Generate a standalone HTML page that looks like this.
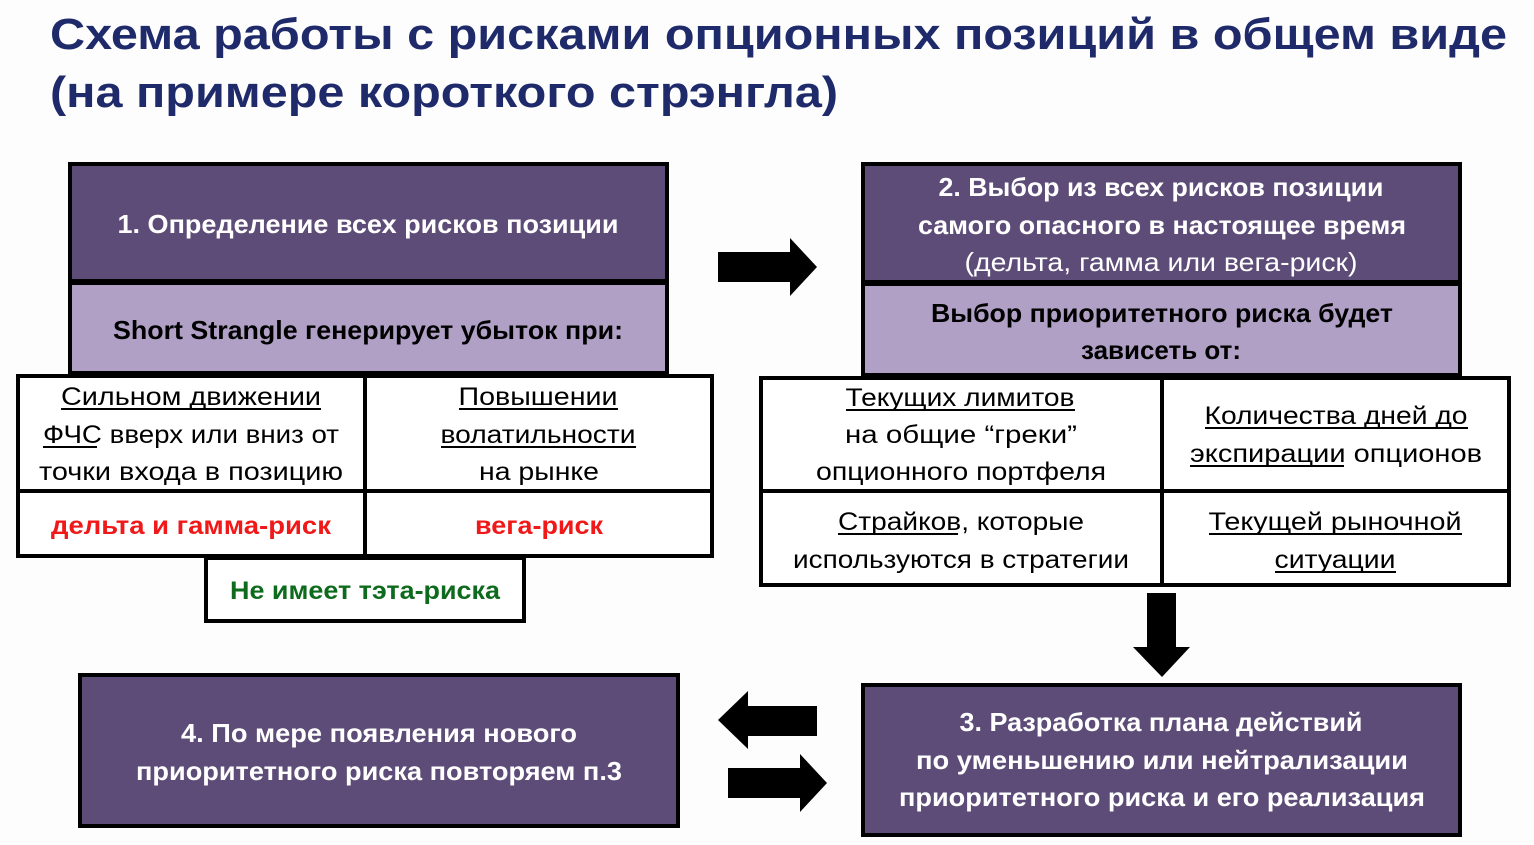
<!DOCTYPE html>
<html><head><meta charset="utf-8"><style>
html,body{margin:0;padding:0;background:#fff;}
svg{display:block}
text{font-family:"Liberation Sans",sans-serif;}
</style></head><body>
<svg width="1534" height="845" viewBox="0 0 1534 845" xmlns="http://www.w3.org/2000/svg">
<rect width="1534" height="845" fill="#fdfdfd"/>
<g font-weight="bold" fill="#1f2a6b" font-size="44">
<text x="50" y="49" textLength="1457" lengthAdjust="spacingAndGlyphs">Схема работы с рисками опционных позиций в общем виде</text>
<text x="50" y="107" textLength="788" lengthAdjust="spacingAndGlyphs">(на примере короткого стрэнгла)</text>
</g>
<g stroke="#000" stroke-width="4">
<rect x="70" y="164" width="597" height="117" fill="#5d4c78"/>
<rect x="70" y="283" width="597" height="90" fill="#b0a0c6"/>
<rect x="18" y="376" width="694" height="180" fill="#fff"/>
<line x1="365" y1="376" x2="365" y2="556"/>
<line x1="18" y1="491" x2="712" y2="491"/>
<rect x="206" y="558" width="318" height="63" fill="#fff"/>
<rect x="863" y="164" width="597" height="118" fill="#5d4c78"/>
<rect x="863" y="284" width="597" height="91" fill="#b0a0c6"/>
<rect x="761" y="378" width="748" height="207" fill="#fff"/>
<line x1="1162" y1="378" x2="1162" y2="585"/>
<line x1="761" y1="491" x2="1509" y2="491"/>
<rect x="863" y="685" width="597" height="150" fill="#5d4c78"/>
<rect x="80" y="675" width="598" height="151" fill="#5d4c78"/>
</g>
<g fill="#000">
<polygon points="718,252 790,252 790,238 817,267 790,296 790,282 718,282"/>
<polygon points="1147,593 1176,593 1176,647 1190,647 1162,677 1133,647 1147,647"/>
<polygon points="817,706 748,706 748,691 718,720 748,749 748,736 817,736"/>
<polygon points="728,768 800,768 800,754 827,783 800,812 800,798 728,798"/>
</g>
<g font-weight="bold" font-size="26" fill="#fff" text-anchor="middle">
<text x="368" y="233" textLength="501" lengthAdjust="spacingAndGlyphs">1. Определение всех рисков позиции</text>
<text x="1161" y="196" textLength="445" lengthAdjust="spacingAndGlyphs">2. Выбор из всех рисков позиции</text>
<text x="1162" y="234" textLength="488" lengthAdjust="spacingAndGlyphs">самого опасного в настоящее время</text>
<text x="1161" y="271" textLength="393" lengthAdjust="spacingAndGlyphs" font-weight="normal">(дельта, гамма или вега-риск)</text>
<text x="1161" y="731" textLength="403" lengthAdjust="spacingAndGlyphs">3. Разработка плана действий</text>
<text x="1162" y="769" textLength="492" lengthAdjust="spacingAndGlyphs">по уменьшению или нейтрализации</text>
<text x="1162" y="806" textLength="526" lengthAdjust="spacingAndGlyphs">приоритетного риска и его реализация</text>
<text x="379" y="742" textLength="396" lengthAdjust="spacingAndGlyphs">4. По мере появления нового</text>
<text x="379" y="780" textLength="486" lengthAdjust="spacingAndGlyphs">приоритетного риска повторяем п.3</text>
</g>
<g font-weight="bold" font-size="26" fill="#000" text-anchor="middle">
<text x="368" y="339" textLength="510" lengthAdjust="spacingAndGlyphs">Short Strangle генерирует убыток при:</text>
<text x="1162" y="322" textLength="462" lengthAdjust="spacingAndGlyphs">Выбор приоритетного риска будет</text>
<text x="1161" y="359" textLength="160" lengthAdjust="spacingAndGlyphs">зависеть от:</text>
</g>
<g font-size="25" fill="#000" text-anchor="middle">
<text x="191" y="405" textLength="260" lengthAdjust="spacingAndGlyphs">Сильном движении</text>
<text x="191" y="443" textLength="296" lengthAdjust="spacingAndGlyphs">ФЧС вверх или вниз от</text>
<text x="191" y="480" textLength="304" lengthAdjust="spacingAndGlyphs">точки входа в позицию</text>
<text x="538" y="405" textLength="159" lengthAdjust="spacingAndGlyphs">Повышении</text>
<text x="538" y="443" textLength="195" lengthAdjust="spacingAndGlyphs">волатильности</text>
<text x="539" y="480" textLength="120" lengthAdjust="spacingAndGlyphs">на рынке</text>
<text x="960" y="406" textLength="229" lengthAdjust="spacingAndGlyphs">Текущих лимитов</text>
<text x="961" y="443" textLength="232" lengthAdjust="spacingAndGlyphs">на общие “греки”</text>
<text x="961" y="480" textLength="290" lengthAdjust="spacingAndGlyphs">опционного портфеля</text>
<text x="1336" y="424" textLength="263" lengthAdjust="spacingAndGlyphs">Количества дней до</text>
<text x="1336" y="462" textLength="292" lengthAdjust="spacingAndGlyphs">экспирации опционов</text>
<text x="961" y="530" textLength="246" lengthAdjust="spacingAndGlyphs">Страйков, которые</text>
<text x="961" y="568" textLength="336" lengthAdjust="spacingAndGlyphs">используются в стратегии</text>
<text x="1335" y="530" textLength="253" lengthAdjust="spacingAndGlyphs">Текущей рыночной</text>
<text x="1335" y="568" textLength="121" lengthAdjust="spacingAndGlyphs">ситуации</text>
</g>
<g stroke="#000" stroke-width="2">
<line x1="61" y1="409" x2="321" y2="409"/>
<line x1="43" y1="447" x2="97" y2="447"/>
<line x1="459" y1="409" x2="618" y2="409"/>
<line x1="441" y1="447" x2="636" y2="447"/>
<line x1="846" y1="410" x2="1075" y2="410"/>
<line x1="1205" y1="428" x2="1468" y2="428"/>
<line x1="1190" y1="466" x2="1344" y2="466"/>
<line x1="838" y1="534" x2="958" y2="534"/>
<line x1="1209" y1="534" x2="1462" y2="534"/>
<line x1="1275" y1="572" x2="1396" y2="572"/>
</g>
<g font-weight="bold" font-size="25" text-anchor="middle">
<text x="191" y="534" fill="#f01818" textLength="280" lengthAdjust="spacingAndGlyphs">дельта и гамма-риск</text>
<text x="539" y="534" fill="#f01818" textLength="128" lengthAdjust="spacingAndGlyphs">вега-риск</text>
<text x="365" y="599" fill="#0e6a1c" textLength="270" lengthAdjust="spacingAndGlyphs">Не имеет тэта-риска</text>
</g>
</svg>
</body></html>
